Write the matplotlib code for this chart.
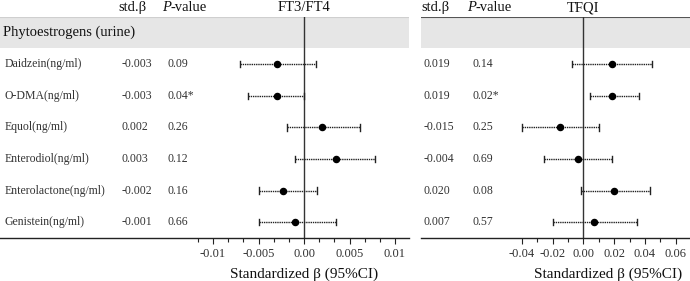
import numpy as np
import matplotlib
matplotlib.use("Agg")
import matplotlib.pyplot as plt
from matplotlib.ticker import FixedLocator
from matplotlib.transforms import blended_transform_factory

plt.rcParams['font.family'] = ['Liberation Serif', 'DejaVu Serif']
plt.rcParams['axes.unicode_minus'] = False

# data
group = 'Phytoestrogens (urine)'
labels = ['Daidzein(ng/ml)', 'O-DMA(ng/ml)', 'Equol(ng/ml)',
          'Enterodiol(ng/ml)', 'Enterolactone(ng/ml)', 'Genistein(ng/ml)']

ft_std = ['-0.003', '-0.003', '0.002', '0.003', '-0.002', '-0.001']
ft_p = ['0.09', '0.04*', '0.26', '0.12', '0.16', '0.66']
ft_est = [-0.0030, -0.0030, 0.0020, 0.0035, -0.0023, -0.0010]
ft_lo = [-0.0070, -0.0061, -0.0019, -0.0010, -0.0050, -0.0050]
ft_hi = [0.0013, 0.0000, 0.0062, 0.0078, 0.0014, 0.0035]

tf_std = ['0.019', '0.019', '-0.015', '-0.004', '0.020', '0.007']
tf_p = ['0.14', '0.02*', '0.25', '0.69', '0.08', '0.57']
tf_est = [0.0184, 0.0189, -0.0151, -0.0036, 0.0199, 0.0067]
tf_lo = [-0.0071, 0.0041, -0.0400, -0.0253, -0.0015, -0.0199]
tf_hi = [0.0444, 0.0362, 0.0104, 0.0186, 0.0431, 0.0347]

W, H = 690, 281
fig = plt.figure(figsize=(6.9, 2.81), dpi=100)


def px_ax(x0, x1, y0, y1):
    return fig.add_axes([x0 / W, 1 - y1 / H, (x1 - x0) / W, (y1 - y0) / H])


def panel(ax, title, std, pv, est, lo, hi, xlim, major, minor, xlab_x,
          std_x, p_x, hstd_x, hp_x, show_labels, top_col):
    rows = np.arange(1, len(est) + 1)
    ax.set_xlim(*xlim)
    ax.set_ylim(6.5, -0.5)
    ax.axhspan(-0.5, 0.5, color='#e6e6e6', lw=0, zorder=0)
    ax.axhline(-0.5, color=top_col, lw=0.8, zorder=1)
    ax.plot([0, 0], [-0.5, 6.5], color='#333333', lw=1.0, zorder=2)
    for y, l, h in zip(rows, lo, hi):
        ax.plot([l, h], [y, y], color='#222222', lw=1.0, ls=(0, (1, 0.6)), zorder=3)
        ax.plot([l, l], [y - 0.1, y + 0.1], color='#222222', lw=1.0, zorder=3)
        ax.plot([h, h], [y - 0.1, y + 0.1], color='#222222', lw=1.0, zorder=3)
    ax.plot(est, rows, 'o', color='black', ms=4.4, zorder=4)

    for s in ['top', 'right', 'left']:
        ax.spines[s].set_visible(False)
    ax.spines['bottom'].set_linewidth(1.0)
    ax.spines['bottom'].set_color('#222222')
    ax.set_yticks([])
    ax.xaxis.set_major_locator(FixedLocator(major))
    ax.xaxis.set_minor_locator(FixedLocator(minor))
    ax.set_xticklabels(['%g' % m if m != 0 else '0.00' for m in major])
    ax.tick_params(axis='x', which='major', length=4, width=0.8,
                   labelsize=9, colors='#222222', labelcolor='#333333', pad=3)
    ax.tick_params(axis='x', which='minor', length=3, width=0.8, colors='#222222')

    tr = blended_transform_factory(ax.transAxes, ax.transData)
    if show_labels:
        ax.text(0.007, 0, group, transform=tr, ha='left', va='center',
                fontsize=10.5, color='#111111')
        for y, lab in zip(rows, labels):
            ax.text(0.012, y, lab, transform=tr, ha='left', va='center',
                    fontsize=8.5, color='#333333')
    for y, s, p in zip(rows, std, pv):
        ax.text(std_x, y, s, transform=tr, ha='left', va='center',
                fontsize=8.5, color='#333333')
        ax.text(p_x, y, p, transform=tr, ha='left', va='center',
                fontsize=8.5, color='#333333')
    ax.text(hstd_x, -0.78, 'std.β', transform=tr, ha='left', va='center',
            fontsize=10.5, color='#111111')
    pt = ax.text(hp_x, -0.78, 'P', transform=tr, ha='left', va='center',
                 fontsize=10.5, color='#111111', style='italic')
    ax.annotate('-value', xy=(1, 0.5), xycoords=pt, ha='left', va='center',
                fontsize=10.5, color='#111111')
    ax.text(0, -0.78, title, ha='center', va='center', fontsize=10.5,
            color='#111111')
    ax.text(xlab_x, 7.65, 'Standardized β (95%CI)', ha='center', va='center',
            fontsize=11, color='#111111', clip_on=False)


# left panel: FT3/FT4
axL = px_ax(0, 409, 16.7, 238)
lmaj = [-0.01, -0.005, 0.0, 0.005, 0.01]
lmin = list(np.arange(-7, 8) * 0.005 / 3)
panel(axL, 'FT3/FT4', ft_std, ft_p, ft_est, ft_lo, ft_hi,
      (-304 / 9100, 105 / 9100), lmaj, lmin, 0.0,
      122 / 409, 168 / 409, 118 / 409, 162 / 409, True, '#cfcfcf')

# right panel: TFQI
axR = px_ax(421, 690, 16.7, 238)
rmaj = [-0.04, -0.02, 0.0, 0.02, 0.04, 0.06]
rmin = list(np.arange(-4, 7) * 0.01)
panel(axR, 'TFQI', tf_std, tf_p, tf_est, tf_lo, tf_hi,
      ((421 - 583.3) / 1540, (690 - 583.3) / 1540), rmaj, rmin, 0.016,
      3 / 269, 52 / 269, 0 / 269, 46 / 269, False, '#555555')

fig.savefig('out.png', dpi=100)
